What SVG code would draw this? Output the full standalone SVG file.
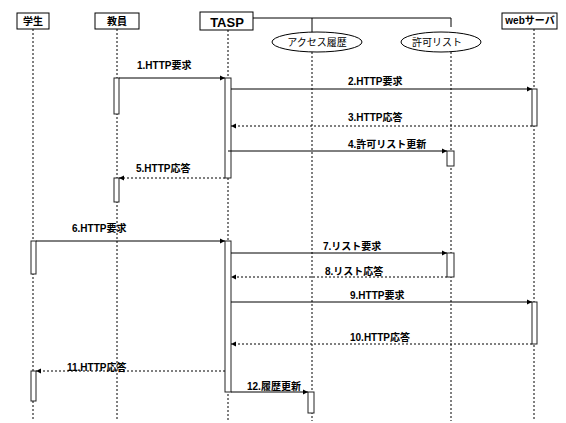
<svg xmlns="http://www.w3.org/2000/svg" width="566" height="423" viewBox="0 0 566 423">
<style>
.bx{fill:#fff;stroke:#000;stroke-width:1}
.act{fill:#fff;stroke:#222;stroke-width:1}
.life{stroke:#000;stroke-width:1;stroke-dasharray:2,2;fill:none}
.msg{stroke:#000;stroke-width:1;fill:none}
.ret{stroke:#000;stroke-width:1;stroke-dasharray:2,2;fill:none}
text{font-family:"Liberation Sans","Noto Sans CJK JP",sans-serif;font-size:10px;fill:#000}
.lb{font-weight:bold}
.hd{font-weight:bold;text-anchor:middle}
.el{text-anchor:middle}
</style>
<defs>
<marker id="ah" markerWidth="6" markerHeight="6" refX="5" refY="3" orient="auto" markerUnits="userSpaceOnUse">
<path d="M0,0.5 L5,3 L0,5.5 Z" fill="#000"/>
</marker>
</defs>
<g id="lifelines">
<line class="life" x1="33" y1="29" x2="33" y2="421"/>
<line class="life" x1="117" y1="29" x2="117" y2="421"/>
<line class="life" x1="228" y1="30" x2="228" y2="421"/>
<line class="life" x1="312" y1="52" x2="312" y2="421"/>
<line class="life" x1="451" y1="52" x2="451" y2="421"/>
<line class="life" x1="534" y1="29" x2="534" y2="421"/>
</g>
<g id="student"><rect class="bx" x="17" y="13" width="32" height="16"/><text class="hd" x="33" y="25">学生</text></g>
<g id="teacher"><rect class="bx" x="95" y="13" width="44" height="16"/><text class="hd" x="117" y="25">教員</text></g>
<g id="tasp"><rect class="bx" x="200" y="12" width="53" height="18"/><text class="hd" x="227" y="27" style="font-size:13px">TASP</text></g>
<g id="tasp-links"><path class="msg" d="M253,18 H451 V27 M312,18 V33"/></g>
<g id="access"><ellipse class="bx" cx="317" cy="42" rx="45" ry="10"/><text class="el" x="317" y="46">アクセス履歴</text></g>
<g id="permit"><ellipse class="bx" cx="441" cy="42" rx="40" ry="10"/><text class="el" x="437" y="46">許可リスト</text></g>
<g id="web"><rect class="bx" x="502" y="13" width="55" height="16"/><text class="hd" x="530" y="24">webサーバ</text></g>
<g id="activations">
<rect class="act" x="114" y="78" width="5" height="36"/>
<rect class="act" x="225" y="78" width="6" height="100"/>
<rect class="act" x="532" y="89" width="5" height="37"/>
<rect class="act" x="447" y="151" width="7" height="15"/>
<rect class="act" x="114" y="178" width="5" height="24"/>
<rect class="act" x="31" y="241" width="5" height="33"/>
<rect class="act" x="225" y="241" width="6" height="151"/>
<rect class="act" x="447" y="253" width="7" height="24"/>
<rect class="act" x="532" y="302" width="5" height="42"/>
<rect class="act" x="31" y="371" width="5" height="30"/>
<rect class="act" x="308" y="392" width="6" height="21"/>
</g>
<g id="connectors">
<line class="msg" x1="119" y1="78" x2="225" y2="78" marker-end="url(#ah)"/>
<line class="msg" x1="231" y1="89" x2="532" y2="89" marker-end="url(#ah)"/>
<line class="ret" x1="532" y1="126" x2="231" y2="126" marker-end="url(#ah)"/>
<line class="msg" x1="228" y1="151" x2="447" y2="151" marker-end="url(#ah)"/>
<line class="ret" x1="225" y1="178" x2="119" y2="178" marker-end="url(#ah)"/>
<line class="msg" x1="36" y1="241" x2="225" y2="241" marker-end="url(#ah)"/>
<line class="msg" x1="231" y1="253" x2="447" y2="253" marker-end="url(#ah)"/>
<line class="ret" x1="447" y1="277" x2="231" y2="277" marker-end="url(#ah)"/>
<line class="msg" x1="231" y1="302" x2="532" y2="302" marker-end="url(#ah)"/>
<line class="ret" x1="532" y1="344" x2="231" y2="344" marker-end="url(#ah)"/>
<line class="ret" x1="225" y1="371" x2="36" y2="371" marker-end="url(#ah)"/>
<line class="msg" x1="231" y1="392" x2="308" y2="392" marker-end="url(#ah)"/>
</g>
<g id="labels">
<text class="lb" x="137" y="69">1.HTTP要求</text>
<text class="lb" x="348" y="85">2.HTTP要求</text>
<text class="lb" x="348" y="121">3.HTTP応答</text>
<text class="lb" x="348" y="148">4.許可リスト更新</text>
<text class="lb" x="136" y="172">5.HTTP応答</text>
<text class="lb" x="72" y="232">6.HTTP要求</text>
<text class="lb" x="323" y="250">7.リスト要求</text>
<text class="lb" x="325" y="275">8.リスト応答</text>
<text class="lb" x="350" y="299">9.HTTP要求</text>
<text class="lb" x="350" y="341">10.HTTP応答</text>
<text class="lb" x="67" y="371">11.HTTP応答</text>
<text class="lb" x="247" y="390">12.履歴更新</text>
</g>
</svg>
